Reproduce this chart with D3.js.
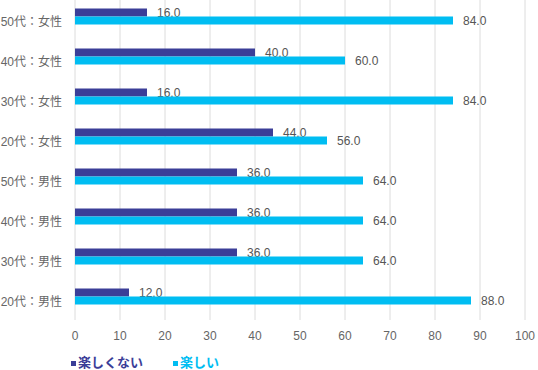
<!doctype html>
<html lang="ja">
<head>
<meta charset="utf-8">
<title>楽しい / 楽しくない</title>
<script src="https://cdn.jsdelivr.net/npm/d3@7"></script>
<style>
	body { margin: 0; background: #fff; }
	text { font-family: "Liberation Sans", "Noto Sans CJK JP", sans-serif; }
</style>
</head>
<body>
<svg width="538" height="370"></svg>
<script>
// data, top to bottom
var categories = ['50代：女性','40代：女性','30代：女性','20代：女性','50代：男性','40代：男性','30代：男性','20代：男性'];
var notFun = [16, 40, 16, 44, 36, 36, 36, 12];   // 楽しくない
var fun    = [84, 60, 84, 56, 64, 64, 64, 88];   // 楽しい
var xTicks = [0,10,20,30,40,50,60,70,80,90,100];
var seriesNames = ['楽しくない','楽しい'];

var darkCol = '#3b3e98', lightCol = '#00bdf2';

const svg = d3.select('svg');

var x = d3.scaleLinear().domain([0,100]).range([75,525]);
var y = d3.scaleBand().domain(categories).range([0,320]);

// gridlines
svg.selectAll('line.grid').data(xTicks).enter().append('line')
	.attr('x1', d=>x(d)).attr('x2', d=>x(d))
	.attr('y1', 0).attr('y2', 320)
	.attr('stroke', '#dcdcdc').attr('stroke-width', 1);

// tick labels
svg.selectAll('text.tick').data(xTicks).enter().append('text')
	.attr('x', d=>x(d)).attr('y', 340)
	.attr('text-anchor','middle')
	.attr('font-size', 12).attr('fill', '#666')
	.text(d=>d);

// category labels
svg.selectAll('text.cat').data(categories).enter().append('text')
	.attr('x', 62).attr('y', d=>y(d)+y.bandwidth()/2 + 6)
	.attr('text-anchor','end')
	.attr('font-size', 12).attr('fill', '#666')
	.text(d=>d);

var c = function(i) { return y(categories[i]) + y.bandwidth()/2; };

// dark bars + labels (light bars drawn after so they overlap the labels)
svg.selectAll('rect.dark').data(notFun).enter().append('rect')
	.attr('x', x(0)).attr('y', (d,i)=>c(i)-11.5)
	.attr('width', d=>x(d)-x(0)).attr('height', 8)
	.attr('fill', darkCol);

svg.selectAll('text.dark').data(notFun).enter().append('text')
	.attr('x', d=>x(d)+10).attr('y', (d,i)=>c(i)-3)
	.attr('font-size', 12).attr('fill', '#555')
	.text(d=>d.toFixed(1));

svg.selectAll('rect.light').data(fun).enter().append('rect')
	.attr('x', x(0)).attr('y', (d,i)=>c(i)-3.5)
	.attr('width', d=>x(d)-x(0)).attr('height', 8)
	.attr('fill', lightCol);

svg.selectAll('text.light').data(fun).enter().append('text')
	.attr('x', d=>x(d)+10).attr('y', (d,i)=>c(i)+5)
	.attr('font-size', 12).attr('fill', '#555')
	.text(d=>d.toFixed(1));

// legend
var legX = [71, 173], legCol = [darkCol, lightCol];
seriesNames.forEach(function(n, i) {
	svg.append('rect').attr('x', legX[i]).attr('y', 361).attr('width', 5).attr('height', 5).attr('fill', legCol[i]);
	svg.append('text').attr('x', legX[i]+7).attr('y', 367)
		.attr('font-size', 13).attr('font-weight', 'bold').attr('fill', legCol[i])
		.text(n);
});
</script>
</body>
</html>
